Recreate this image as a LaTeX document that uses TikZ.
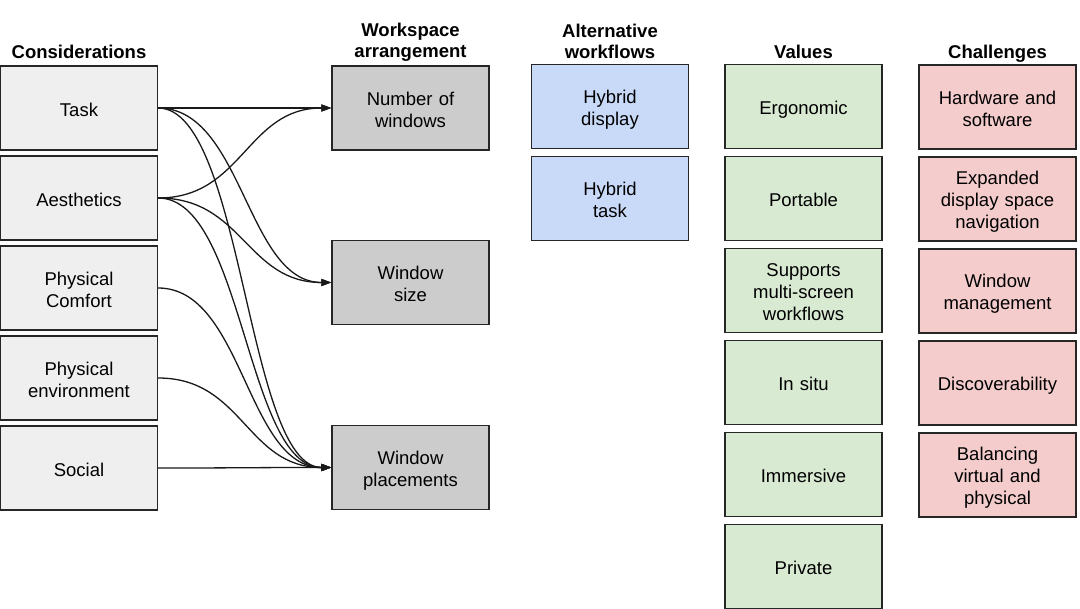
\documentclass[tikz,border=0pt]{standalone}
\usepackage{fontspec}
\setmainfont{Liberation Sans}
\usetikzlibrary{positioning, arrows.meta}
\definecolor{considerfill}{HTML}{EFEFEF}
\definecolor{arrangefill}{HTML}{CCCCCC}
\definecolor{workflowfill}{HTML}{C9DAF8}
\definecolor{valuefill}{HTML}{D9EAD3}
\definecolor{challengefill}{HTML}{F4CCCC}
\newcommand{\topstrut}{\vrule width 0pt height 19.7pt depth 0pt}
\newcommand{\botstrut}{\vrule width 0pt height 0pt depth 2.9pt}
\begin{document}
\begin{tikzpicture}[
				x = 1pt, y = -1pt,
				every node/.style = {font = \fontsize{18.5}{22}\selectfont},
				box/.style = {draw = black!85, line width = 1.3pt, rectangle, align = center, text width = 150pt, minimum width = 157pt, minimum height = 84pt, inner sep = 2pt,
					execute at begin node = \topstrut, execute at end node = \botstrut},
				header/.style = {font = \fontsize{18.5}{21}\selectfont\bfseries, align = center, inner sep = 0pt, text depth = 4pt},
				link/.style = {-{Triangle[length = 10pt, width = 7pt]}, line width = 1.3pt, black!90, out = 0, in = 180, distance = 85pt}
			]

			\path[use as bounding box, clip] (0,0) rectangle (1080,609);

			% considerations
			\node (task) [box, fill = considerfill] at (79,108) {Task};
			\node (aest) [below of = task, node distance = 90pt, box, fill = considerfill] {Aesthetics};
			\node (comf) [below of = aest, node distance = 90pt, box, fill = considerfill] {Physical\\Comfort};
			\node (envi) [below of = comf, node distance = 90pt, box, fill = considerfill] {Physical\\environment};
			\node (soci) [below of = envi, node distance = 90pt, box, fill = considerfill] {Social};

			% workspace arrangement
			\node (numb) [box, fill = arrangefill] at (410.5,108) {Number of\\windows};
			\node (size) [below of = numb, node distance = 174.5pt, box, fill = arrangefill] {Window\\size};
			\node (plac) [below of = size, node distance = 185pt, box, fill = arrangefill] {Window\\placements};

			% alternative workflows
			\node (hdis) [box, fill = workflowfill] at (610,106.5) {Hybrid\\display};
			\node (htas) [below of = hdis, node distance = 92pt, box, fill = workflowfill] {Hybrid\\task};

			% values
			\node (ergo) [box, fill = valuefill] at (803.5,106.5) {Ergonomic};
			\node (port) [below of = ergo, node distance = 92pt, box, fill = valuefill] {Portable};
			\node (mult) [below of = port, node distance = 92pt, box, fill = valuefill] {Supports\\multi-screen\\workflows};
			\node (situ) [below of = mult, node distance = 92pt, box, fill = valuefill] {In situ};
			\node (imme) [below of = situ, node distance = 92pt, box, fill = valuefill] {Immersive};
			\node (priv) [below of = imme, node distance = 92pt, box, fill = valuefill] {Private};

			% challenges
			\node (hard) [box, fill = challengefill] at (997.5,107) {Hardware and\\software};
			\node (expa) [below of = hard, node distance = 92pt, box, fill = challengefill] {Expanded\\display space\\navigation};
			\node (wman) [below of = expa, node distance = 92pt, box, fill = challengefill] {Window\\management};
			\node (disc) [below of = wman, node distance = 92pt, box, fill = challengefill] {Discoverability};
			\node (bala) [below of = disc, node distance = 92pt, box, fill = challengefill] {Balancing\\virtual and\\physical};

			% headers
			\node [above = 3pt of task, header] {Considerations};
			\node [above = 4pt of numb, header] {Workspace\\arrangement};
			\node [above = 1pt of hdis, header] {Alternative\\workflows};
			\node [above = 1pt of ergo, header] {Values};
			\node [above = 2pt of hard, header] {Challenges};

			\path[link]
			(task.east) edge (numb.west)
			(task.east) edge (size.west)
			(task.east) edge (plac.west)
			(aest.east) edge (numb.west)
			(aest.east) edge (size.west)
			(aest.east) edge (plac.west)
			(comf.east) edge (plac.west)
			(envi.east) edge (plac.west)
			(soci.east) edge (plac.west);
		\end{tikzpicture}
\end{document}
